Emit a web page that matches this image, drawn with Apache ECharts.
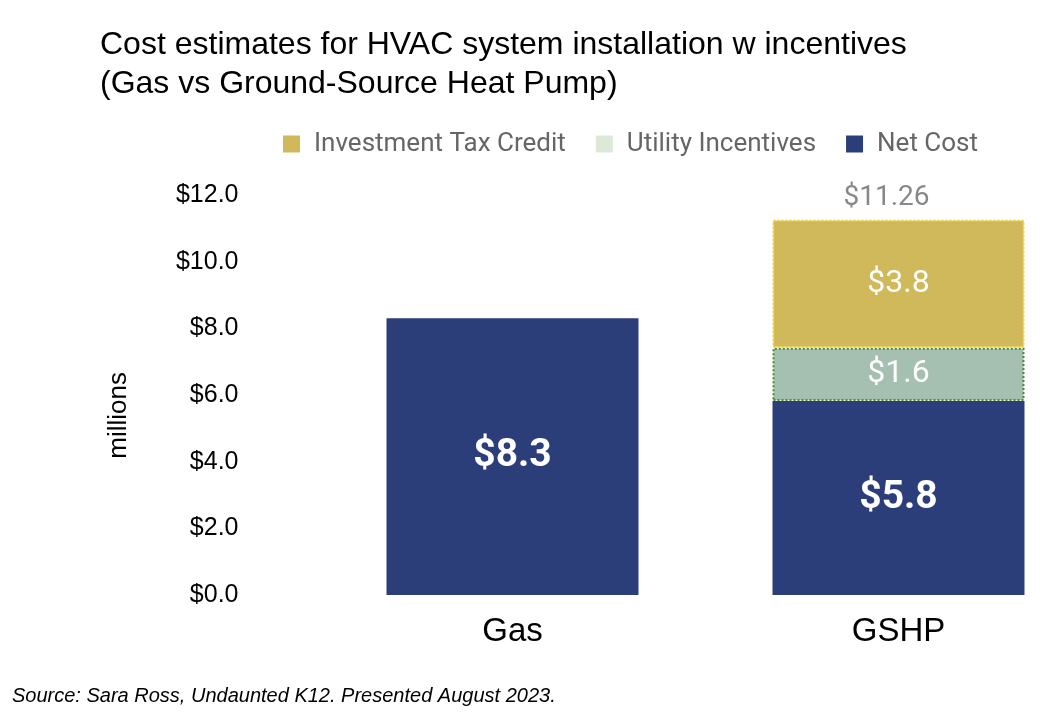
<!DOCTYPE html>
<html>
<head>
<meta charset="utf-8">
<script src="https://cdn.jsdelivr.net/npm/echarts@6/dist/echarts.min.js"></script>
<style>
  html, body { margin: 0; padding: 0; background: #fff; }
  #main { width: 1056px; height: 722px; }
</style>
</head>
<body>
<div id="main"></div>
<script>
var categories = ['Gas', 'GSHP'];
var netCost = [8.3, 5.82];
var utilityIncentives = [null, 1.6];
var taxCredit = [null, 3.84];
var yTicks = [0, 2, 4, 6, 8, 10, 12];

var chart = echarts.init(document.getElementById('main'));

function totalOf(i) {
  return (netCost[i] || 0) + (utilityIncentives[i] || 0) + (taxCredit[i] || 0);
}

var option = {
  backgroundColor: '#fff',
  animation: false,
  title: {
    text: 'Cost estimates for HVAC system installation w incentives\n(Gas vs Ground-Source Heat Pump)',
    left: 95,
    top: 21,
    textStyle: {
      fontFamily: 'Liberation Sans',
      fontSize: 32,
      fontWeight: 'normal',
      color: '#000',
      lineHeight: 39
    }
  },
  legend: {
    left: 278,
    top: 126,
    icon: 'rect',
    itemWidth: 17,
    itemHeight: 17,
    itemGap: 30,
    textStyle: { fontFamily: 'Roboto', fontSize: 26, color: '#666', padding: [0, 0, 0, 9] },
    data: [
      { name: 'Investment Tax Credit', itemStyle: { color: '#d0b95a', borderWidth: 0 } },
      { name: 'Utility Incentives', itemStyle: { color: '#dde9d6', borderWidth: 0 } },
      { name: 'Net Cost', itemStyle: { color: '#2c3e7a', borderWidth: 0 } }
    ]
  },
  // bars sit on the grid edges (boundaryGap false) so their centres line up with the reference
  grid: { left: 512.5, right: 157.5, top: 195, bottom: 127 },
  xAxis: {
    type: 'category',
    data: categories,
    boundaryGap: false,
    axisLine: { show: false },
    axisTick: { show: false },
    axisLabel: { margin: 20, fontFamily: 'Liberation Sans', fontSize: 33, color: '#000' }
  },
  yAxis: {
    type: 'value',
    min: yTicks[0],
    max: yTicks[yTicks.length - 1],
    interval: 2,
    splitLine: { show: false },
    axisLine: { show: false },
    axisTick: { show: false },
    axisLabel: {
      margin: 274,
      fontFamily: 'Liberation Sans',
      fontSize: 25,
      color: '#000',
      formatter: function (v) { return '$' + v.toFixed(1); }
    }
  },
  graphic: [
    {
      type: 'text',
      left: 106,
      top: 372,
      rotation: Math.PI / 2,
      style: { text: 'millions', font: '26px "Liberation Sans"', fill: '#000' }
    },
    {
      type: 'text',
      left: 12,
      top: 686,
      style: {
        text: 'Source: Sara Ross, Undaunted K12. Presented August 2023.',
        font: 'italic 20px "Liberation Sans"',
        fill: '#000'
      }
    }
  ],
  series: [
    {
      name: 'Net Cost',
      type: 'bar',
      stack: 'cost',
      barWidth: 252,
      clip: false,
      data: netCost,
      itemStyle: { color: '#2c3e7a' },
      label: {
        show: true,
        position: 'inside',
        fontFamily: 'Roboto',
        fontWeight: 'bold',
        fontSize: 39,
        color: '#fff',
        formatter: function (p) { return '$' + p.value.toFixed(1); }
      }
    },
    {
      name: 'Utility Incentives',
      type: 'bar',
      stack: 'cost',
      clip: false,
      data: utilityIncentives,
      itemStyle: { color: '#a5bfb0', borderColor: '#4a8a2a', borderWidth: 2, borderType: 'dotted' },
      label: {
        show: true,
        position: 'inside',
        fontFamily: 'Roboto',
        fontSize: 32,
        color: '#fff',
        formatter: function (p) { return '$' + p.value.toFixed(1); }
      }
    },
    {
      name: 'Investment Tax Credit',
      type: 'bar',
      stack: 'cost',
      clip: false,
      data: taxCredit,
      itemStyle: { color: '#d0b95a', borderColor: '#f5cc30', borderWidth: 2, borderType: 'dotted' },
      label: {
        show: true,
        position: 'inside',
        fontFamily: 'Roboto',
        fontSize: 32,
        color: '#fff',
        formatter: function (p) { return '$' + p.value.toFixed(1); }
      }
    },
    {
      name: 'Total',
      type: 'bar',
      stack: 'cost',
      clip: false,
      data: [null, 0],
      itemStyle: { color: 'transparent' },
      label: {
        show: true,
        position: 'top',
        distance: 8,
        offset: [-12, 0],
        fontFamily: 'Roboto',
        fontSize: 28,
        color: '#888',
        formatter: function (p) { return '$' + totalOf(p.dataIndex).toFixed(2); }
      }
    }
  ]
};

chart.setOption(option);
</script>
</body>
</html>
